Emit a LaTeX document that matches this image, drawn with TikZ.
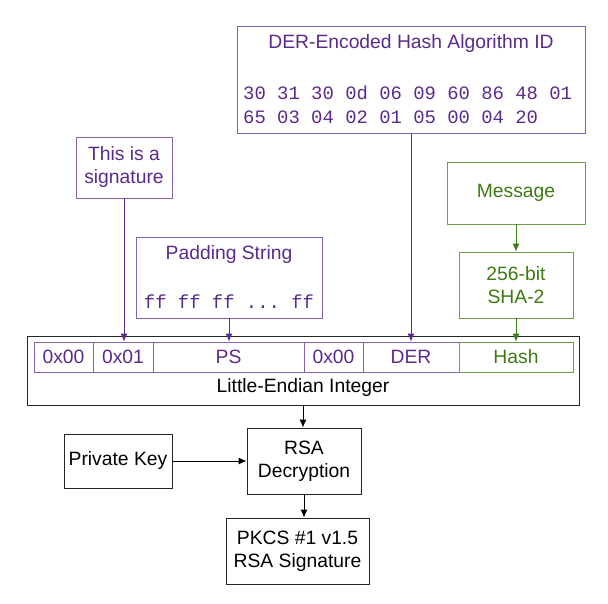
\documentclass[tikz,border=0pt]{standalone}
\usepackage{fontspec}
\setmainfont{Liberation Sans}
\setmonofont{Liberation Mono}
\usetikzlibrary{arrows.meta}
\definecolor{ptext}{HTML}{5A2A8C}
\definecolor{pline}{HTML}{8060B8}
\definecolor{parrow}{HTML}{5B2A96}
\definecolor{gtext}{HTML}{3E7A12}
\definecolor{gline}{HTML}{6B9E45}
\definecolor{garrow}{HTML}{3F7A14}
\tikzset{
  box/.style={draw, line width=0.9pt, inner sep=0pt, align=center},
  pbox/.style={box, draw=pline, text=ptext},
  gbox/.style={box, draw=gline, text=gtext},
  kbox/.style={box, draw=black!85, text=black},
  lbl/.style={inner sep=0pt, align=center},
  hex/.style={inner sep=0pt, anchor=west, font=\fontsize{18.9}{22}\ttfamily},
  arr/.style={line width=0.9pt, -{Latex[length=8pt,width=7pt]}},
}
\begin{document}
\begin{tikzpicture}[x=1pt, y=-1pt, font=\fontsize{19.3}{23}\selectfont]
	\useasboundingbox (0,0) rectangle (608,603);
	% inputs on top
	\node[pbox, minimum width=348, minimum height=107] (derid) at (411,79.5) {};
	\node[lbl, text=ptext] (dertitle) at (411,44) {DER-Encoded Hash Algorithm ID};
	\node[hex, text=ptext] (hexa) at (243,93) {30 31 30 0d 06 09 60 86 48 01};
	\node[hex, text=ptext] (hexb) at (243,117) {65 03 04 02 01 05 00 04 20};
	\node[pbox, minimum width=96, minimum height=61] (sig) at (124,167.5) {This is a\\signature};
	\node[pbox, minimum width=186, minimum height=81] (pad) at (229,277.5) {};
	\node[lbl, text=ptext] (padtitle) at (229,255) {Padding String};
	\node[lbl, text=ptext, font=\fontsize{18.9}{22}\ttfamily] (padff) at (229,302) {ff ff ff ... ff};
	\node[gbox, minimum width=138, minimum height=62] (msg) at (516,193) {Message};
	\node[gbox, minimum width=114, minimum height=66] (sha) at (516,285) {256-bit\\SHA-2};
	% the integer
	\node[kbox, minimum width=552, minimum height=69] (int) at (303,370.5) {};
	\node[lbl] (intlabel) at (303,388) {Little-Endian Integer};
	\node[pbox, minimum width=59, minimum height=30] (zeroa) at (63.5,357) {0x00};
	\node[pbox, minimum width=60, minimum height=30] (one) at (123,357) {0x01};
	\node[pbox, minimum width=151, minimum height=30] (ps) at (228.5,357) {PS};
	\node[pbox, minimum width=59, minimum height=30] (zerob) at (333.5,357) {0x00};
	\node[pbox, minimum width=96, minimum height=30] (der) at (411,357) {DER};
	\node[gbox, minimum width=114, minimum height=30] (hash) at (516,357) {Hash};
	% signing
	\node[kbox, minimum width=114, minimum height=66] (rsa) at (304,461) {RSA\\Decryption};
	\node[kbox, minimum width=108, minimum height=54] (key) at (118,461) {Private Key};
	\node[kbox, minimum width=143, minimum height=66] (pkcs) at (297.5,551) {PKCS \#1 v1.5\\RSA Signature};
	% connectors
	\draw[arr, parrow] (sig.south) -- (sig.south |- one.north);
	\draw[arr, parrow] (pad.south) -- (pad.south |- ps.north);
	\draw[arr, parrow] (derid.south) -- (derid.south |- der.north);
	\draw[arr, garrow] (msg.south) -- (sha.north);
	\draw[arr, garrow] (sha.south) -- (hash.north);
	\draw[arr, black] (int.south) -- (int.south |- rsa.north);
	\draw[arr, black] (key.east) -- (rsa.west);
	\draw[arr, black] (rsa.south) -- (rsa.south |- pkcs.north);
\end{tikzpicture}
\end{document}
